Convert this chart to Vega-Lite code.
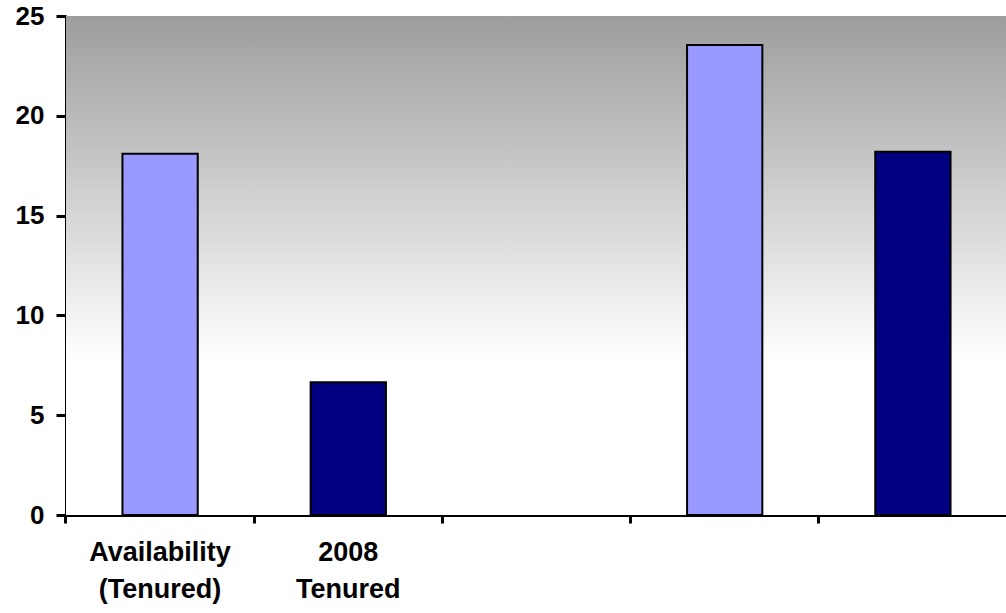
{
  "$schema": "https://vega.github.io/schema/vega-lite/v6.json",
  "autosize": "none",
  "width": 941,
  "height": 499,
  "padding": {"left": 66, "top": 16, "right": 0, "bottom": 98},
  "background": "white",
  "config": {"view": {"stroke": null}, "font": "Liberation Sans"},
  "datasets": {
    "bars": [
      {"cat": "Availability|(Tenured)", "value": 18.1, "series": "Availability"},
      {"cat": "2008|Tenured", "value": 6.65, "series": "2008"},
      {"cat": "c4", "value": 23.55, "series": "Availability"},
      {"cat": "c5", "value": 18.2, "series": "2008"}
    ],
    "bg": [{"lo": 0, "hi": 25}]
  },
  "layer": [
    {
      "data": {"name": "bg"},
      "mark": {
        "type": "rect",
        "color": {
          "gradient": "linear",
          "x1": 0, "y1": 0, "x2": 0, "y2": 1,
          "stops": [
            {"offset": 0, "color": "#9d9d9d"},
            {"offset": 0.69, "color": "#ffffff"},
            {"offset": 1, "color": "#ffffff"}
          ]
        }
      },
      "encoding": {
        "y": {"field": "lo", "type": "quantitative", "scale": {"domain": [0, 25]}},
        "y2": {"field": "hi"}
      }
    },
    {
      "data": {"name": "bars"},
      "mark": {"type": "bar", "stroke": "black", "strokeWidth": 2},
      "encoding": {
        "x": {
          "field": "cat",
          "type": "nominal",
          "sort": null,
          "scale": {
            "domain": ["Availability|(Tenured)", "2008|Tenured", "c3", "c4", "c5"],
            "paddingInner": 0.6,
            "paddingOuter": 0.3
          },
          "axis": {
            "title": null,
            "labelAngle": 0,
            "labelExpr": "indexof(datum.value, '|') >= 0 ? split(datum.value, '|') : ''",
            "labelFont": "Liberation Sans",
            "labelFontWeight": "bold",
            "labelFontSize": 27,
            "labelColor": "black",
            "labelLineHeight": 37,
            "labelPadding": 16,
            "labelBaseline": "top",
            "bandPosition": -0.75,
            "domainColor": "black",
            "domainWidth": 3,
            "tickColor": "black",
            "tickWidth": 3,
            "tickSize": 8,
            "grid": false
          }
        },
        "y": {
          "field": "value",
          "type": "quantitative",
          "scale": {"domain": [0, 25]},
          "axis": {
            "title": null,
            "values": [0, 5, 10, 15, 20, 25],
            "labelFont": "Liberation Sans",
            "labelFontWeight": "bold",
            "labelFontSize": 26,
            "labelColor": "black",
            "labelPadding": 12,
            "domainColor": "black",
            "domainWidth": 3,
            "tickColor": "black",
            "tickWidth": 3,
            "tickSize": 10,
            "grid": false
          }
        },
        "color": {
          "field": "series",
          "type": "nominal",
          "scale": {"domain": ["Availability", "2008"], "range": ["#9999ff", "#000080"]},
          "legend": null
        }
      }
    }
  ]
}
